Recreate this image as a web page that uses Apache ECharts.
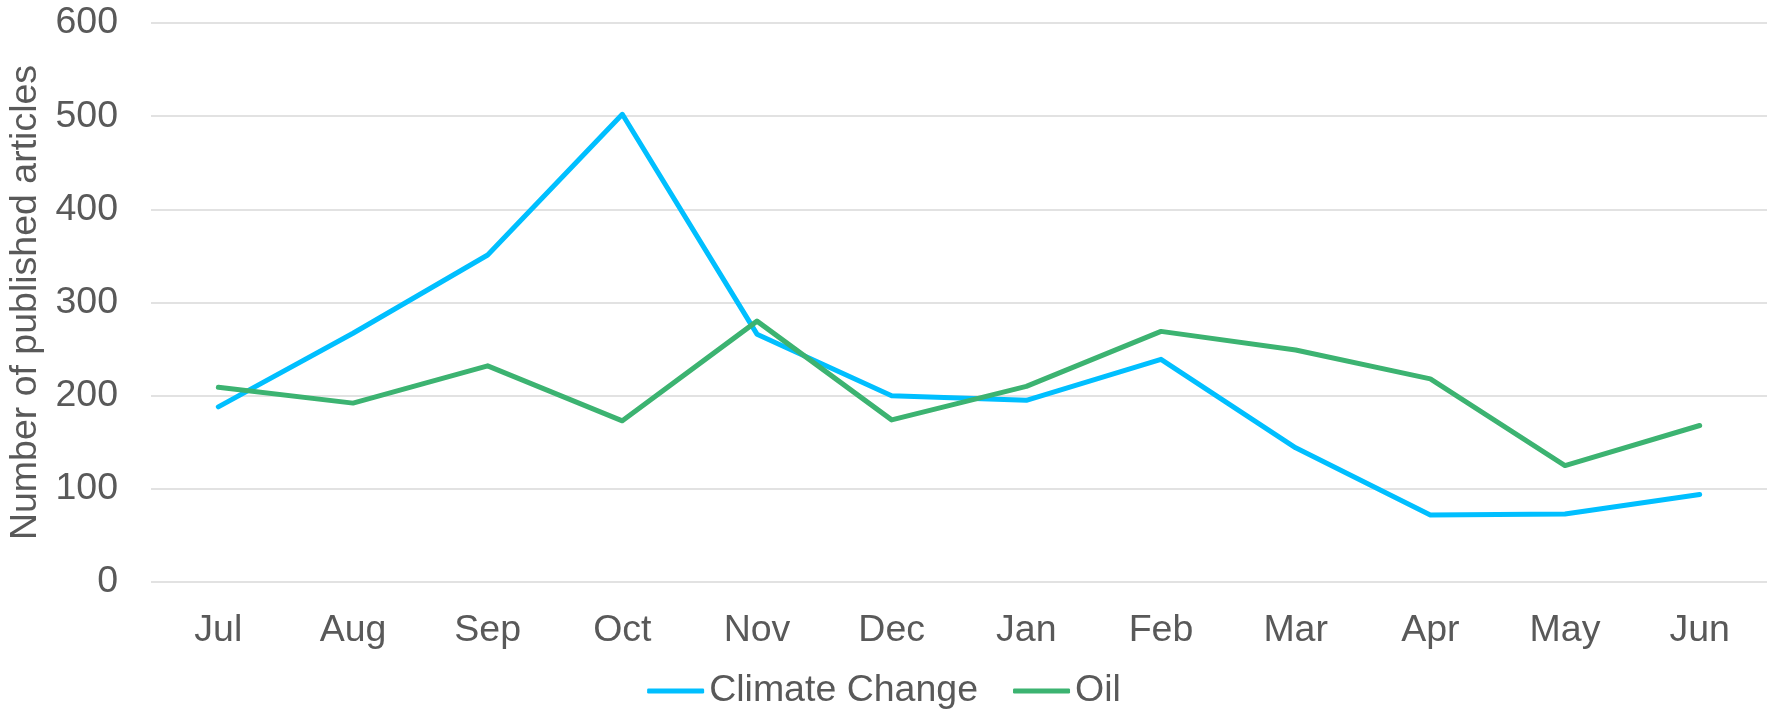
<!DOCTYPE html>
<html>
<head>
<meta charset="utf-8">
<script src="https://cdn.jsdelivr.net/npm/echarts@6/dist/echarts.min.js"></script>
<style>
  html, body { margin: 0; padding: 0; background: #fff; }
  #chart { width: 1768px; height: 714px; }
</style>
</head>
<body>
<div id="chart"></div>
<script>
// months on the x axis
const months = ['Jul', 'Aug', 'Sep', 'Oct', 'Nov', 'Dec', 'Jan', 'Feb', 'Mar', 'Apr', 'May', 'Jun']
// published articles per month
const climateChange = [188, 267, 351, 502, 266, 200, 195, 239, 144, 72, 73, 94]
const oil = [209, 192, 232, 173, 280, 174, 210, 269, 249, 218, 125, 168]

const textColor = '#595959'
const font = 'Liberation Sans, Arial, sans-serif'
const fontSize = 37.5

const myChart = echarts.init(document.getElementById('chart'))
const option = {
  animation: false,
  textStyle: { fontFamily: font },
  grid: {
    left: 151,
    right: 1,
    top: 23,
    bottom: 132,
    containLabel: false,
    outerBoundsMode: 'none'
  },
  legend: {
    top: 667,
    left: 'center',
    itemWidth: 57,
    itemHeight: 5,
    itemGap: 35,
    icon: 'roundRect',
    textStyle: { color: textColor, fontSize: fontSize, fontFamily: font },
    data: ['Climate Change', 'Oil']
  },
  xAxis: {
    type: 'category',
    data: months,
    boundaryGap: true,
    axisLine: { show: false },
    axisTick: { show: false },
    axisLabel: { color: textColor, fontSize: fontSize, margin: 30, fontFamily: font }
  },
  yAxis: {
    type: 'value',
    min: 0,
    max: 600,
    interval: 100,
    name: 'Number of published articles',
    nameLocation: 'middle',
    nameGap: 102,
    nameTextStyle: { color: textColor, fontSize: fontSize, fontFamily: font },
    axisLine: { show: false },
    axisTick: { show: false },
    axisLabel: { color: textColor, fontSize: fontSize, margin: 33, fontFamily: font },
    splitLine: { lineStyle: { color: '#d9d9d9', width: 1.5 } }
  },
  series: [
    {
      name: 'Climate Change',
      type: 'line',
      data: climateChange,
      symbol: 'none',
      color: '#00BFFF',
      lineStyle: { width: 5, color: '#00BFFF', cap: 'round', join: 'round' }
    },
    {
      name: 'Oil',
      type: 'line',
      data: oil,
      symbol: 'none',
      color: '#3CB371',
      lineStyle: { width: 5, color: '#3CB371', cap: 'round', join: 'round' }
    }
  ]
}
myChart.setOption(option)
window.addEventListener('resize', () => { myChart.resize() })
</script>
</body>
</html>
